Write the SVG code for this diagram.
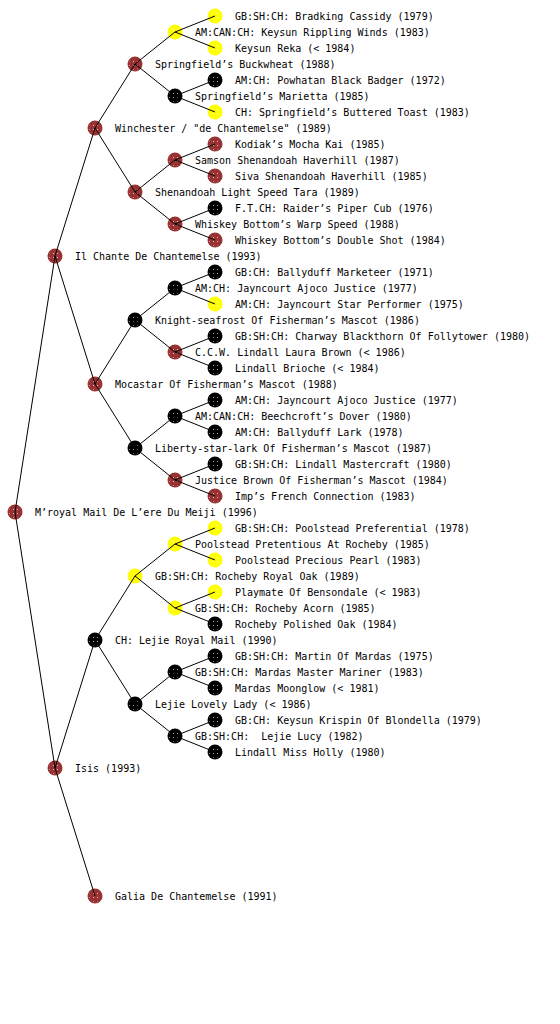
<svg xmlns="http://www.w3.org/2000/svg" width="560" height="1024" viewBox="0 0 560 1024">
<style>
text{font-family:"DejaVu Sans Mono","Liberation Mono",monospace;font-size:10px;fill:#000}
.r{fill:#993333}
.y{fill:#ffff00}
.k{fill:#000}
.d{fill:url(#dots)}
#edges line{stroke:#000;stroke-width:1}
</style>
<defs>
<pattern id="dots" width="4" height="4" patternUnits="userSpaceOnUse"><rect x="1" y="1" width="1" height="1" fill="#fff" opacity="0.7"/></pattern>
</defs>
<rect width="560" height="1024" fill="#fff"/>
<g id="nodes">
<g id="n1"><circle class="y" cx="215" cy="16" r="7.5"/><circle class="d" cx="215" cy="16" r="6"/><text x="235" y="20">GB:SH:CH: Bradking Cassidy (1979)</text></g>
<g id="n2"><circle class="y" cx="175" cy="32" r="7.5"/><circle class="d" cx="175" cy="32" r="6"/><text x="195" y="36">AM:CAN:CH: Keysun Rippling Winds (1983)</text></g>
<g id="n3"><circle class="y" cx="215" cy="48" r="7.5"/><circle class="d" cx="215" cy="48" r="6"/><text x="235" y="52">Keysun Reka (&lt; 1984)</text></g>
<g id="n4"><circle class="r" cx="135" cy="64" r="7.5"/><circle class="d" cx="135" cy="64" r="6"/><text x="155" y="68">Springfield’s Buckwheat (1988)</text></g>
<g id="n5"><circle class="k" cx="215" cy="80" r="7.5"/><circle class="d" cx="215" cy="80" r="6"/><text x="235" y="84">AM:CH: Powhatan Black Badger (1972)</text></g>
<g id="n6"><circle class="k" cx="175" cy="96" r="7.5"/><circle class="d" cx="175" cy="96" r="6"/><text x="195" y="100">Springfield’s Marietta (1985)</text></g>
<g id="n7"><circle class="y" cx="215" cy="112" r="7.5"/><circle class="d" cx="215" cy="112" r="6"/><text x="235" y="116">CH: Springfield’s Buttered Toast (1983)</text></g>
<g id="n8"><circle class="r" cx="95" cy="128" r="7.5"/><circle class="d" cx="95" cy="128" r="6"/><text x="115" y="132">Winchester / "de Chantemelse" (1989)</text></g>
<g id="n9"><circle class="r" cx="215" cy="144" r="7.5"/><circle class="d" cx="215" cy="144" r="6"/><text x="235" y="148">Kodiak’s Mocha Kai (1985)</text></g>
<g id="n10"><circle class="r" cx="175" cy="160" r="7.5"/><circle class="d" cx="175" cy="160" r="6"/><text x="195" y="164">Samson Shenandoah Haverhill (1987)</text></g>
<g id="n11"><circle class="r" cx="215" cy="176" r="7.5"/><circle class="d" cx="215" cy="176" r="6"/><text x="235" y="180">Siva Shenandoah Haverhill (1985)</text></g>
<g id="n12"><circle class="r" cx="135" cy="192" r="7.5"/><circle class="d" cx="135" cy="192" r="6"/><text x="155" y="196">Shenandoah Light Speed Tara (1989)</text></g>
<g id="n13"><circle class="k" cx="215" cy="208" r="7.5"/><circle class="d" cx="215" cy="208" r="6"/><text x="235" y="212">F.T.CH: Raider’s Piper Cub (1976)</text></g>
<g id="n14"><circle class="r" cx="175" cy="224" r="7.5"/><circle class="d" cx="175" cy="224" r="6"/><text x="195" y="228">Whiskey Bottom’s Warp Speed (1988)</text></g>
<g id="n15"><circle class="r" cx="215" cy="240" r="7.5"/><circle class="d" cx="215" cy="240" r="6"/><text x="235" y="244">Whiskey Bottom’s Double Shot (1984)</text></g>
<g id="n16"><circle class="r" cx="55" cy="256" r="7.5"/><circle class="d" cx="55" cy="256" r="6"/><text x="75" y="260">Il Chante De Chantemelse (1993)</text></g>
<g id="n17"><circle class="k" cx="215" cy="272" r="7.5"/><circle class="d" cx="215" cy="272" r="6"/><text x="235" y="276">GB:CH: Ballyduff Marketeer (1971)</text></g>
<g id="n18"><circle class="k" cx="175" cy="288" r="7.5"/><circle class="d" cx="175" cy="288" r="6"/><text x="195" y="292">AM:CH: Jayncourt Ajoco Justice (1977)</text></g>
<g id="n19"><circle class="y" cx="215" cy="304" r="7.5"/><circle class="d" cx="215" cy="304" r="6"/><text x="235" y="308">AM:CH: Jayncourt Star Performer (1975)</text></g>
<g id="n20"><circle class="k" cx="135" cy="320" r="7.5"/><circle class="d" cx="135" cy="320" r="6"/><text x="155" y="324">Knight-seafrost Of Fisherman’s Mascot (1986)</text></g>
<g id="n21"><circle class="k" cx="215" cy="336" r="7.5"/><circle class="d" cx="215" cy="336" r="6"/><text x="235" y="340">GB:SH:CH: Charway Blackthorn Of Follytower (1980)</text></g>
<g id="n22"><circle class="r" cx="175" cy="352" r="7.5"/><circle class="d" cx="175" cy="352" r="6"/><text x="195" y="356">C.C.W. Lindall Laura Brown (&lt; 1986)</text></g>
<g id="n23"><circle class="k" cx="215" cy="368" r="7.5"/><circle class="d" cx="215" cy="368" r="6"/><text x="235" y="372">Lindall Brioche (&lt; 1984)</text></g>
<g id="n24"><circle class="r" cx="95" cy="384" r="7.5"/><circle class="d" cx="95" cy="384" r="6"/><text x="115" y="388">Mocastar Of Fisherman’s Mascot (1988)</text></g>
<g id="n25"><circle class="k" cx="215" cy="400" r="7.5"/><circle class="d" cx="215" cy="400" r="6"/><text x="235" y="404">AM:CH: Jayncourt Ajoco Justice (1977)</text></g>
<g id="n26"><circle class="k" cx="175" cy="416" r="7.5"/><circle class="d" cx="175" cy="416" r="6"/><text x="195" y="420">AM:CAN:CH: Beechcroft’s Dover (1980)</text></g>
<g id="n27"><circle class="k" cx="215" cy="432" r="7.5"/><circle class="d" cx="215" cy="432" r="6"/><text x="235" y="436">AM:CH: Ballyduff Lark (1978)</text></g>
<g id="n28"><circle class="k" cx="135" cy="448" r="7.5"/><circle class="d" cx="135" cy="448" r="6"/><text x="155" y="452">Liberty-star-lark Of Fisherman’s Mascot (1987)</text></g>
<g id="n29"><circle class="k" cx="215" cy="464" r="7.5"/><circle class="d" cx="215" cy="464" r="6"/><text x="235" y="468">GB:SH:CH: Lindall Mastercraft (1980)</text></g>
<g id="n30"><circle class="r" cx="175" cy="480" r="7.5"/><circle class="d" cx="175" cy="480" r="6"/><text x="195" y="484">Justice Brown Of Fisherman’s Mascot (1984)</text></g>
<g id="n31"><circle class="r" cx="215" cy="496" r="7.5"/><circle class="d" cx="215" cy="496" r="6"/><text x="235" y="500">Imp’s French Connection (1983)</text></g>
<g id="n32"><circle class="r" cx="15" cy="512" r="7.5"/><circle class="d" cx="15" cy="512" r="6"/><text x="35" y="516">M’royal Mail De L’ere Du Meiji (1996)</text></g>
<g id="n33"><circle class="y" cx="215" cy="528" r="7.5"/><circle class="d" cx="215" cy="528" r="6"/><text x="235" y="532">GB:SH:CH: Poolstead Preferential (1978)</text></g>
<g id="n34"><circle class="y" cx="175" cy="544" r="7.5"/><circle class="d" cx="175" cy="544" r="6"/><text x="195" y="548">Poolstead Pretentious At Rocheby (1985)</text></g>
<g id="n35"><circle class="y" cx="215" cy="560" r="7.5"/><circle class="d" cx="215" cy="560" r="6"/><text x="235" y="564">Poolstead Precious Pearl (1983)</text></g>
<g id="n36"><circle class="y" cx="135" cy="576" r="7.5"/><circle class="d" cx="135" cy="576" r="6"/><text x="155" y="580">GB:SH:CH: Rocheby Royal Oak (1989)</text></g>
<g id="n37"><circle class="y" cx="215" cy="592" r="7.5"/><circle class="d" cx="215" cy="592" r="6"/><text x="235" y="596">Playmate Of Bensondale (&lt; 1983)</text></g>
<g id="n38"><circle class="y" cx="175" cy="608" r="7.5"/><circle class="d" cx="175" cy="608" r="6"/><text x="195" y="612">GB:SH:CH: Rocheby Acorn (1985)</text></g>
<g id="n39"><circle class="k" cx="215" cy="624" r="7.5"/><circle class="d" cx="215" cy="624" r="6"/><text x="235" y="628">Rocheby Polished Oak (1984)</text></g>
<g id="n40"><circle class="k" cx="95" cy="640" r="7.5"/><circle class="d" cx="95" cy="640" r="6"/><text x="115" y="644">CH: Lejie Royal Mail (1990)</text></g>
<g id="n41"><circle class="k" cx="215" cy="656" r="7.5"/><circle class="d" cx="215" cy="656" r="6"/><text x="235" y="660">GB:SH:CH: Martin Of Mardas (1975)</text></g>
<g id="n42"><circle class="k" cx="175" cy="672" r="7.5"/><circle class="d" cx="175" cy="672" r="6"/><text x="195" y="676">GB:SH:CH: Mardas Master Mariner (1983)</text></g>
<g id="n43"><circle class="k" cx="215" cy="688" r="7.5"/><circle class="d" cx="215" cy="688" r="6"/><text x="235" y="692">Mardas Moonglow (&lt; 1981)</text></g>
<g id="n44"><circle class="k" cx="135" cy="704" r="7.5"/><circle class="d" cx="135" cy="704" r="6"/><text x="155" y="708">Lejie Lovely Lady (&lt; 1986)</text></g>
<g id="n45"><circle class="k" cx="215" cy="720" r="7.5"/><circle class="d" cx="215" cy="720" r="6"/><text x="235" y="724">GB:CH: Keysun Krispin Of Blondella (1979)</text></g>
<g id="n46"><circle class="k" cx="175" cy="736" r="7.5"/><circle class="d" cx="175" cy="736" r="6"/><text x="195" y="740" xml:space="preserve">GB:SH:CH:  Lejie Lucy (1982)</text></g>
<g id="n47"><circle class="k" cx="215" cy="752" r="7.5"/><circle class="d" cx="215" cy="752" r="6"/><text x="235" y="756">Lindall Miss Holly (1980)</text></g>
<g id="n48"><circle class="r" cx="55" cy="768" r="7.5"/><circle class="d" cx="55" cy="768" r="6"/><text x="75" y="772">Isis (1993)</text></g>
<g id="n49"><circle class="r" cx="95" cy="896" r="7.5"/><circle class="d" cx="95" cy="896" r="6"/><text x="115" y="900">Galia De Chantemelse (1991)</text></g>
</g>
<g id="edges">
<line x1="15" y1="512" x2="55" y2="256"/>
<line x1="15" y1="512" x2="55" y2="768"/>
<line x1="55" y1="256" x2="95" y2="128"/>
<line x1="55" y1="256" x2="95" y2="384"/>
<line x1="55" y1="768" x2="95" y2="640"/>
<line x1="55" y1="768" x2="95" y2="896"/>
<line x1="95" y1="128" x2="135" y2="64"/>
<line x1="95" y1="128" x2="135" y2="192"/>
<line x1="95" y1="384" x2="135" y2="320"/>
<line x1="95" y1="384" x2="135" y2="448"/>
<line x1="95" y1="640" x2="135" y2="576"/>
<line x1="95" y1="640" x2="135" y2="704"/>
<line x1="135" y1="64" x2="175" y2="32"/>
<line x1="135" y1="64" x2="175" y2="96"/>
<line x1="135" y1="192" x2="175" y2="160"/>
<line x1="135" y1="192" x2="175" y2="224"/>
<line x1="135" y1="320" x2="175" y2="288"/>
<line x1="135" y1="320" x2="175" y2="352"/>
<line x1="135" y1="448" x2="175" y2="416"/>
<line x1="135" y1="448" x2="175" y2="480"/>
<line x1="135" y1="576" x2="175" y2="544"/>
<line x1="135" y1="576" x2="175" y2="608"/>
<line x1="135" y1="704" x2="175" y2="672"/>
<line x1="135" y1="704" x2="175" y2="736"/>
<line x1="175" y1="32" x2="215" y2="16"/>
<line x1="175" y1="32" x2="215" y2="48"/>
<line x1="175" y1="96" x2="215" y2="80"/>
<line x1="175" y1="96" x2="215" y2="112"/>
<line x1="175" y1="160" x2="215" y2="144"/>
<line x1="175" y1="160" x2="215" y2="176"/>
<line x1="175" y1="224" x2="215" y2="208"/>
<line x1="175" y1="224" x2="215" y2="240"/>
<line x1="175" y1="288" x2="215" y2="272"/>
<line x1="175" y1="288" x2="215" y2="304"/>
<line x1="175" y1="352" x2="215" y2="336"/>
<line x1="175" y1="352" x2="215" y2="368"/>
<line x1="175" y1="416" x2="215" y2="400"/>
<line x1="175" y1="416" x2="215" y2="432"/>
<line x1="175" y1="480" x2="215" y2="464"/>
<line x1="175" y1="480" x2="215" y2="496"/>
<line x1="175" y1="544" x2="215" y2="528"/>
<line x1="175" y1="544" x2="215" y2="560"/>
<line x1="175" y1="608" x2="215" y2="592"/>
<line x1="175" y1="608" x2="215" y2="624"/>
<line x1="175" y1="672" x2="215" y2="656"/>
<line x1="175" y1="672" x2="215" y2="688"/>
<line x1="175" y1="736" x2="215" y2="720"/>
<line x1="175" y1="736" x2="215" y2="752"/>
</g>
</svg>
